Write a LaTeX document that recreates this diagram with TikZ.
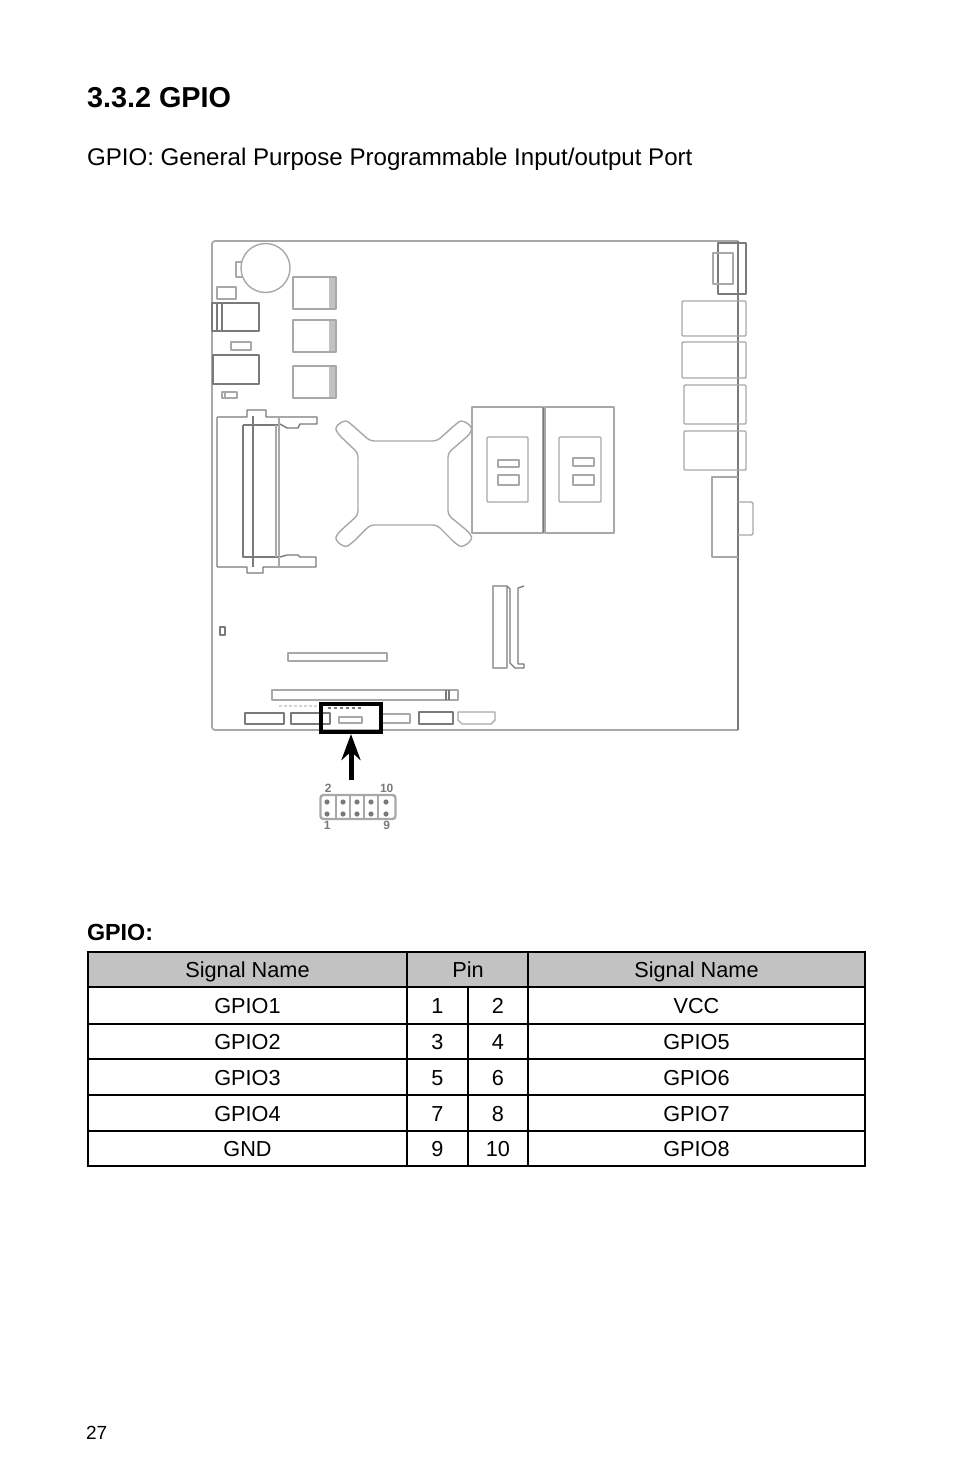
\documentclass[tikz,border=0pt]{standalone}
\usepackage{fontspec}
\setmainfont{Liberation Sans}
\usetikzlibrary{fit,shapes,calc,matrix,positioning,arrows.meta}
\definecolor{boardgray}{gray}{0.66}
\definecolor{boarddark}{gray}{0.48}
\definecolor{headgray}{gray}{0.76}
\tikzset{
  board/.style={draw=boardgray,line width=1.4pt,line join=round},
  boarddk/.style={draw=boarddark,line width=1.4pt,line join=round},
  pagetext/.style={anchor=base west,inner sep=0pt,outer sep=0pt,font=\fontsize{24.1}{28}\selectfont},
  pinlabel/.style={inner sep=0pt,text=boarddark,font=\fontsize{12}{13}\bfseries\selectfont},
}
\begin{document}
\begin{tikzpicture}[x=1pt,y=-1pt]
  \useasboundingbox (0,0) rectangle (954,1475);
  \fill[white] (0,0) rectangle (954,1475);
  % page text
  \node[pagetext,font=\fontsize{28.8}{32}\bfseries\selectfont] (title) at (87,107) {3.3.2 GPIO};
  \node[pagetext] (subtitle) at (87,165) {GPIO: General Purpose Programmable Input/output Port};
  \node[pagetext,font=\fontsize{23.3}{26}\bfseries\selectfont] (tablehead) at (87,940) {GPIO:};
  \node[pagetext,font=\fontsize{19}{22}\selectfont] (pagenum) at (86,1439) {27};
  % board outline
  \draw[board,line width=1.8pt,rounded corners=3pt] (738,241) -- (212,241) -- (212,730) -- (738,730);
  \draw[boarddk] (738,241) -- (738,730);
  % battery
  \draw[board] (265.5,268) circle (24.5);
  \draw[board] (242,262) -- (236,262) -- (236,277) -- (242,277);
  % left column
  \foreach \ya/\yb in {277/309,320/352,366/398} {
    \fill[headgray] (329,\ya) rectangle (336,\yb);
    \draw[board] (293,\ya) rectangle (336,\yb);
  }
  \draw[board] (217,287) rectangle (236,299);
  \draw[boarddk] (212,303) rectangle (259,331);
  \draw[boarddk] (217,303) -- (217,331) (222,303) -- (222,331);
  \draw[board] (231,342) rectangle (251,350);
  \draw[boarddk] (213,355) rectangle (259,384);
  \draw[board] (222,392) rectangle (237,398) (225,392) -- (225,398);
  % memory socket
  \draw[boarddk] (217,417) -- (247,417) -- (247,410) -- (266,410) -- (266,417) -- (317,417) -- (317,424) -- (300,424) -- (298,428) -- (287,428) -- (280,424);
  \draw[board] (217,417) -- (217,567);
  \draw[boarddk] (217,567) -- (247,567) -- (247,573) -- (263,573) -- (263,567) -- (316,567) -- (316,557) -- (300,557) -- (298,555) -- (287,555) -- (280,557);
  \draw[boarddk] (243,425) -- (243,557) -- (279,557) (243,425) -- (279,425);
  \draw[boarddk] (253,416) -- (253,567);
  \draw[board] (279,417) -- (279,567) (276,425) -- (276,557);
  % retention bracket
  \draw[board,rounded corners=4pt] (370,441) -- (437,441) -- (456,424) .. controls (463,419) and (473,426) .. (470,434) -- (448,453) -- (448,515) -- (470,533) .. controls (473,541) and (463,548) .. (456,544) -- (437,525) -- (370,525) -- (351,544) .. controls (344,548) and (334,541) .. (338,533) -- (358,515) -- (358,453) -- (338,434) .. controls (334,426) and (344,419) .. (351,424) -- cycle;
  % heat sinks
  \draw[board] (472,407) rectangle (543,533);
  \draw[board] (545,407) rectangle (614,533);
  \draw[boarddk,line width=1.6pt] (543.5,407) -- (543.5,533);
  \draw[board,rounded corners=1pt] (487,437) rectangle (528,502) (559,437) rectangle (601,502);
  \draw[board] (498,460) rectangle (519,467) (498,475) rectangle (519,485);
  \draw[board] (573,458) rectangle (594,466) (573,475) rectangle (594,485);
  % rear ports
  \draw[boarddk] (718,243) rectangle (746,294);
  \draw[board,line width=1.8pt] (713,253) rectangle (733,284);
  \foreach \xa/\ya/\yb in {682/301/336,682/342/378,684/385/424,684/431/470} {
    \draw[board,rounded corners=1pt] (\xa,\ya) rectangle (746,\yb);
  }
  \draw[board] (738,477) -- (712,477) -- (712,557) -- (738,557);
  \draw[board,rounded corners=2pt] (738,502) -- (753,502) -- (753,535) -- (738,535);
  % lower slots
  \draw[board] (493,586) rectangle (507,668);
  \draw[boarddk] (507,586) -- (510,589) -- (510,663) -- (515,668) -- (524,668) -- (524,664) -- (518,664) -- (518,588) -- (524,586);
  \draw[boarddk] (220,627) rectangle (225,635);
  \draw[board] (288,653) rectangle (387,661);
  \draw[board] (272,690) rectangle (458,700);
  \draw[boarddk] (446,690) -- (446,700) (449,690) -- (449,700);
  \draw[boarddk] (245,713) rectangle (284,724);
  \draw[boarddk] (291,713) rectangle (330,724);
  \draw[board] (339,717) rectangle (362,723);
  \draw[board] (382,714) rectangle (410,723);
  \draw[boarddk] (419,712) rectangle (453,724);
  \draw[board] (458,712) -- (495,712) -- (495,720) -- (491,724) -- (462,724) -- (458,720) -- cycle;
  \draw[boardgray!50,line width=2pt,dash pattern=on 3pt off 2pt] (279,706) -- (318,706);
  \draw[boarddark,line width=2pt,dash pattern=on 3pt off 3pt] (328,708) -- (362,708);
  % highlight box and arrow
  \node[draw=black,line width=4pt,minimum width=60pt,minimum height=28pt,inner sep=0pt,outer sep=2pt] (hilite) at (351,718) {};
  \coordinate (arrowfoot) at (351,780);
  \draw[-{Stealth[length=26pt,width=19pt]},line width=5pt,black] (arrowfoot) -- (hilite.south);
  % header drawing
  \node[draw=boardgray,line width=2.4pt,rounded corners=3pt,minimum width=75pt,minimum height=24pt,inner sep=0pt] (gpiohdr) at (358,807) {};
  \foreach \x in {336,350,364,378} {
    \draw[board,line width=2pt] (\x,795) -- (\x,819);
  }
  \foreach \x in {327,343,357,371,386} {
    \fill[boarddark] (\x,802) circle (2.6) (\x,814) circle (2.6);
  }
  \node[pinlabel,above=1pt of gpiohdr.north west,xshift=9pt] (pintwo) {2};
  \node[pinlabel,above=1pt of gpiohdr.north east,xshift=-10pt] (pinten) {10};
  \node[pinlabel,below=1pt of gpiohdr.south west,xshift=8pt] (pinone) {1};
  \node[pinlabel,below=1pt of gpiohdr.south east,xshift=-10pt] (pinnine) {9};
  % pin table
  \matrix(gpiotab) [matrix of nodes, anchor=north west, row sep=-2pt, column sep=-2pt, nodes in empty cells,
                    nodes={shape=rectangle,draw=black,line width=2pt,inner sep=0pt,outer sep=0pt,minimum height=36pt,anchor=center,text height=16pt,text depth=0pt,font=\fontsize{21.7}{26}\selectfont},
                    inner sep=0pt,outer sep=0pt,
                    row 1/.style={nodes={fill=headgray,minimum height=35pt}},
                    row 2/.style={nodes={minimum height=37pt}},
                    row 3/.style={nodes={minimum height=35pt}},
                    row 6/.style={nodes={minimum height=35pt}},
                    column 1/.style={nodes={minimum width=319pt}},
                    column 2/.style={nodes={minimum width=61pt}},
                    column 3/.style={nodes={minimum width=60pt}},
                    column 4/.style={nodes={minimum width=337pt}},
                    ampersand replacement=\&,] at (87,951) {
    Signal Name \&     \&     \& Signal Name \\
    GPIO1       \& 1   \& 2   \& VCC         \\
    GPIO2       \& 3   \& 4   \& GPIO5       \\
    GPIO3       \& 5   \& 6   \& GPIO6       \\
    GPIO4       \& 7   \& 8   \& GPIO7       \\
    GND         \& 9   \& 10  \& GPIO8       \\
  };
  \fill[headgray] ([shift={(-1.5pt,-1pt)}]gpiotab-1-3.north west) rectangle ([shift={(1.5pt,1pt)}]gpiotab-1-3.south west);
  \node[inner sep=0pt,text height=16pt,text depth=0pt,font=\fontsize{21.7}{26}\selectfont] (pinhead) at (gpiotab-1-3.west) {Pin};
\end{tikzpicture}
\end{document}
